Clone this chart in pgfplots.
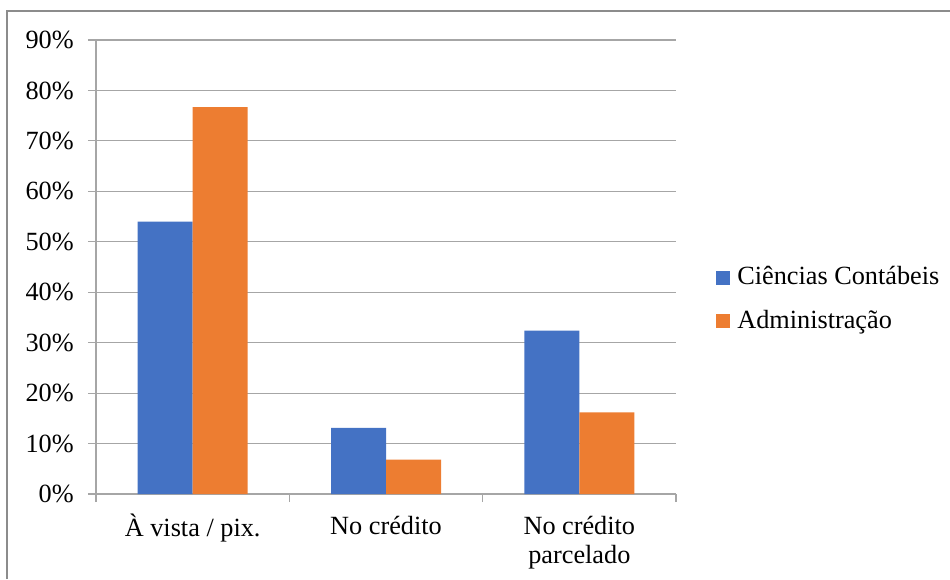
\documentclass[border=0pt]{standalone}
\usepackage{pgfplots}
\pgfplotsset{compat=1.18}
\usepackage{fontspec}
\setmainfont{Liberation Serif}
\definecolor{cblue}{HTML}{4472C4}
\definecolor{corange}{HTML}{ED7D31}
\definecolor{gridc}{HTML}{A6A6A6}
\definecolor{framec}{HTML}{8C8C8C}
\begin{document}
\fontsize{19.7}{21.75}\selectfont
\begin{tikzpicture}
\useasboundingbox (0pt,0pt) rectangle (712.5pt,-434.25pt);
\draw[framec, line width=1.2pt] (5.25pt,-434.25pt) -- (5.25pt,-8.25pt) -- (712.5pt,-8.25pt);
\begin{axis}[
  at={(72pt,-370.5pt)}, anchor=south west,
  scale only axis, width=435pt, height=340.5pt,
  xmin=-0.5, xmax=2.5, ymin=0, ymax=90,
  ybar=0pt, bar width=41.25pt,
  axis x line*=bottom, axis y line*=left,
  axis line style={gridc, line width=0.8pt},
  tick align=outside,
  xtick={0,1,2},
  xticklabels={{\begin{tabular}[t]{@{}c@{}}À vista / pix.\end{tabular}},
               {\begin{tabular}[t]{@{}c@{}}No crédito\end{tabular}},
               {\begin{tabular}[t]{@{}c@{}}No crédito\\parcelado\end{tabular}}},
  major x tick style={draw=none},
  minor xtick={-0.5,0.5,1.5,2.5},
  minor x tick style={gridc, line width=0.8pt},
  minor tick length=6pt,
  ytick={0,10,...,90},
  yticklabels={0\%,10\%,20\%,30\%,40\%,50\%,60\%,70\%,80\%,90\%},
  major tick length=6pt,
  y tick style={gridc, line width=0.8pt},
  ymajorgrids, major grid style={gridc, line width=0.8pt},
  tick label style={font=\fontsize{19.7}{21.75}\selectfont},
  xticklabel style={anchor=north, inner sep=0pt, yshift=-8.8pt},
  yticklabel style={anchor=east, inner sep=0pt, xshift=-10.5pt},
  legend style={at={(1.069,0.4284)}, anchor=west, draw=none, fill=none,
    font=\fontsize{19.7}{21.75}\selectfont, row sep=16pt, column sep=5.25pt,
    inner sep=0pt, nodes={inner sep=0pt}},
  legend cell align=left,
  legend image code/.code={\fill[#1] (0pt,-5.25pt) rectangle (10.5pt,5.25pt);},
]
\addplot[fill=cblue, draw=none] coordinates {(0,54.0) (1,13.1) (2,32.4)};
\addplot[fill=corange, draw=none] coordinates {(0,76.7) (1,6.8) (2,16.2)};
\legend{Ciências Contábeis, Administração}
\end{axis}
\end{tikzpicture}
\end{document}
